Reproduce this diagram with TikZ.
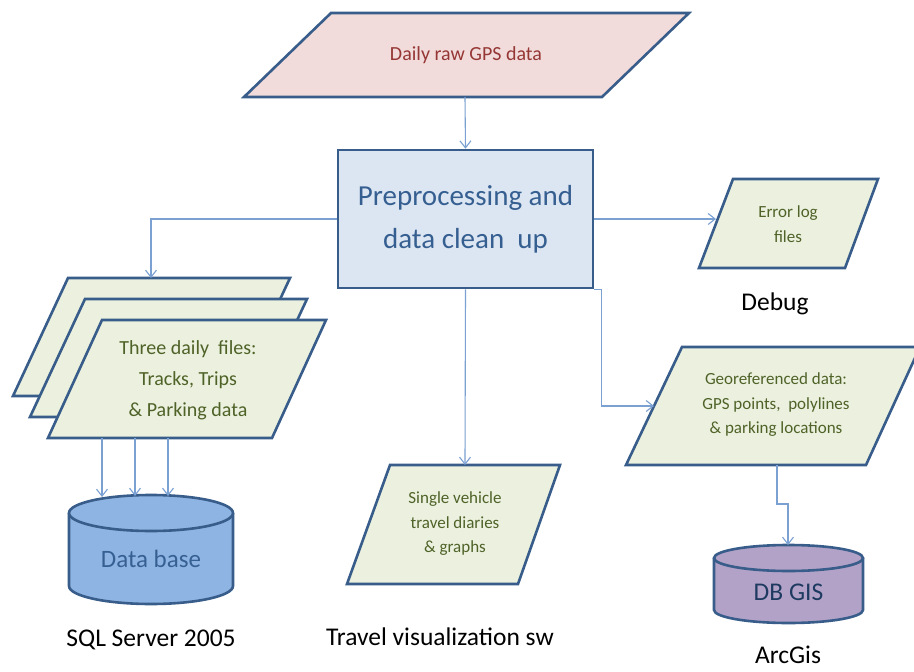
\documentclass[tikz,border=0pt]{standalone}
\usepackage{fontspec}
\setmainfont{Carlito}
\usetikzlibrary{arrows.meta}
\definecolor{bord}{HTML}{385D8A}
\definecolor{arr}{HTML}{7BA0D2}
\definecolor{grfill}{HTML}{EBF1DE}
\definecolor{grtext}{HTML}{4F6228}
\definecolor{pkfill}{HTML}{F2DCDB}
\definecolor{pktext}{HTML}{953735}
\definecolor{bxfill}{HTML}{DCE6F2}
\definecolor{bxtext}{HTML}{365F91}
\definecolor{dbfill}{HTML}{8EB4E3}
\definecolor{dbtext}{HTML}{376092}
\definecolor{gisfill}{HTML}{B3A2C7}
\definecolor{gistext}{HTML}{1F3A60}
\begin{document}
\begin{tikzpicture}[x=1pt,y=-1pt,
  shapeline/.style={draw=bord, line width=2.6pt, line join=miter},
  grpara/.style={shapeline, fill=grfill},
  conn/.style={draw=arr, line width=1.1pt, -{Straight Barb[length=7pt,width=11pt,line width=1.1pt]}},
  plain/.style={draw=arr, line width=1.1pt},
  smalltxt/.style={align=center, text=grtext, font=\fontsize{17}{24.5}\selectfont, inner sep=0pt},
  labeltxt/.style={align=center, text=black, font=\fontsize{25.5}{30}\selectfont, inner sep=0pt}]
\useasboundingbox (0,0) rectangle (914,672);
\fill[white] (0,0) rectangle (914,672);

% ---- Daily raw GPS data
\draw[shapeline, fill=pkfill] (331,13) -- (689,13) -- (602,97) -- (244,97) -- cycle;
\node[align=center, text=pktext, font=\fontsize{20}{24}\selectfont, inner sep=0pt] (raw) at (466,55) {Daily raw GPS data};
\coordinate (raw-s) at (465,97);

% ---- Preprocessing box
\node[shapeline, fill=bxfill, minimum width=255pt, minimum height=138pt, inner sep=0pt,
      align=center, text=bxtext, font=\fontsize{29}{43}\selectfont] (pre) at (465.5,219) {Preprocessing and\\data clean~~up};

% ---- Error log files
\draw[grpara] (733,179) -- (878,179) -- (845,268) -- (699,268) -- cycle;
\node[smalltxt] (err) at (788,224) {Error log\\files};
\coordinate (err-w) at (716,219);
\node[labeltxt] (debug) at (775,304) {Debug};

% ---- Three daily files (stack)
\draw[grpara] (68,278) -- (290,278) -- (235,396) -- (13,396) -- cycle;
\draw[grpara] (85,299) -- (307,299) -- (252,417) -- (30,417) -- cycle;
\draw[grpara] (102,320) -- (326,320) -- (272,438) -- (48,438) -- cycle;
\node[align=center, text=grtext, font=\fontsize{20}{31}\selectfont, inner sep=0pt] (three) at (188,380) {Three daily~~files:\\Tracks, Trips\\\& Parking data};
\coordinate (back-n) at (151,278);
\coordinate (fa) at (102,438);
\coordinate (fb) at (135,438);
\coordinate (fc) at (168,438);

% ---- Data base cylinder
\fill[dbfill] (69,513) -- (69,586) arc[start angle=180, end angle=0, x radius=82, y radius=18] -- (233,513) -- cycle;
\draw[shapeline] (69,513) -- (69,586) arc[start angle=180, end angle=0, x radius=82, y radius=18] -- (233,513);
\draw[shapeline, fill=dbfill] (151,513) ellipse[x radius=82, y radius=18];
\node[text=dbtext, font=\fontsize{25}{30}\selectfont, inner sep=0pt] (db) at (151,559) {Data base};
\coordinate (dba) at (102,497);
\coordinate (dbb) at (135,496);
\coordinate (dbc) at (168,496);
\node[labeltxt] (sql) at (151,640) {SQL Server 2005};

% ---- Single vehicle
\draw[grpara] (390,465) -- (560,465) -- (518,584) -- (347,584) -- cycle;
\node[smalltxt] (single) at (455,524) {Single vehicle\\travel diaries\\\& graphs};
\coordinate (single-n) at (465,465);
\node[labeltxt] (tvs) at (440,637) {Travel visualization sw};

% ---- Georeferenced data
\draw[grpara] (682,347) -- (920,347) -- (866,465) -- (626,465) -- cycle;
\node[smalltxt] (geo) at (776,405) {Georeferenced data:\\GPS points,~~polylines\\\& parking locations};
\coordinate (geo-w) at (654,406);
\coordinate (geo-s) at (777,465);

% ---- DB GIS cylinder
\fill[gisfill] (714,558) -- (714,610) arc[start angle=180, end angle=0, x radius=74.5, y radius=13] -- (863,558) -- cycle;
\draw[shapeline] (714,558) -- (714,610) arc[start angle=180, end angle=0, x radius=74.5, y radius=13] -- (863,558);
\draw[shapeline, fill=gisfill] (788.5,558) ellipse[x radius=74.5, y radius=13];
\node[text=gistext, font=\fontsize{25.5}{30}\selectfont, inner sep=0pt] (gis) at (788.5,592) {DB GIS};
\coordinate (gis-n) at (788,545);
\node[labeltxt] (arcgis) at (788,655) {ArcGis};

% ---- connectors
\draw[conn] (raw-s) -- (pre.north);
\draw[conn] (pre.west) -| (back-n);
\draw[conn] (pre.east) -- (err-w);
\draw[conn] (pre.south) -- (single-n);
\draw[conn] (pre.south east) -- ++(7,0) |- (geo-w);
\draw[conn] (geo-s) -- ++(0,39) -| (gis-n);
\draw[conn] (fa) -- (dba);
\draw[conn] (fb) -- (dbb);
\draw[conn] (fc) -- (dbc);
\end{tikzpicture}
\end{document}
